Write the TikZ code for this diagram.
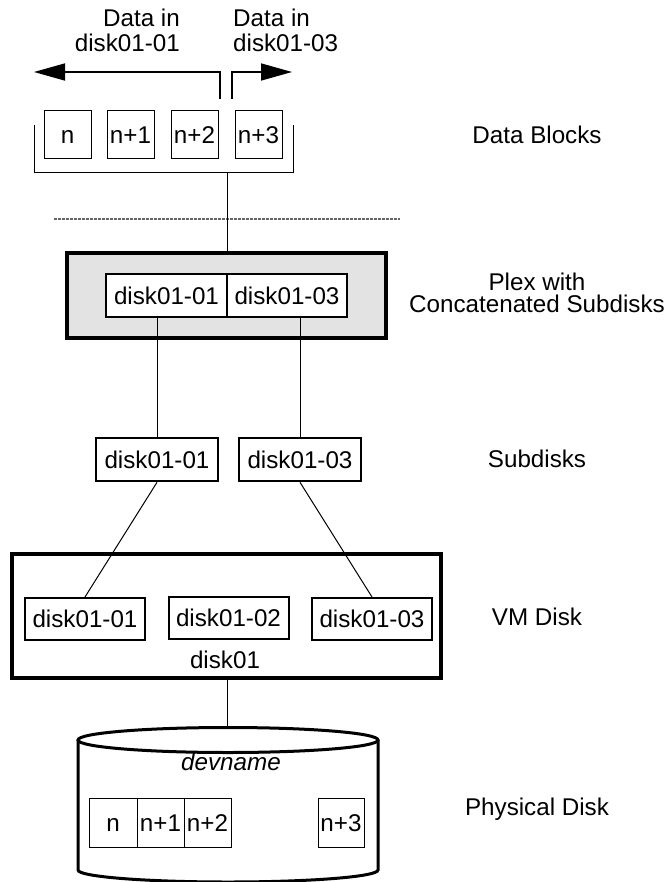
\documentclass[tikz,border=0pt]{standalone}
\usepackage{fontspec}
\setmainfont{Liberation Sans}
\usetikzlibrary{arrows.meta}
\begin{document}
\begin{tikzpicture}[x=1pt,y=-1pt,
  every node/.style={font=\fontsize{24.2}{26}\selectfont, inner sep=0pt},
  boxtext/.style={text height=17pt, text depth=0pt},
  blk/.style={draw, boxtext, line width=1pt, minimum height=48pt},
  sdbox/.style={draw, boxtext, line width=2.6pt, minimum height=43pt, minimum width=122pt},
  inbox/.style={draw, boxtext, line width=1.8pt, fill=white, minimum height=43pt},
  vmbox/.style={draw, boxtext, line width=2pt, minimum height=42pt, minimum width=120pt},
  outer/.style={draw, line width=3.2pt},
  conn/.style={line width=1pt},
  lab/.style={anchor=base},
  arr/.style={line width=1.6pt, -{Triangle[length=31pt,width=17pt]}}
]
\useasboundingbox (0,0) rectangle (667,882);

% top labels
\node[anchor=base east] (t1a) at (180,27) {Data in};
\node[anchor=base east] (t1b) at (180,52) {disk01-01};
\node[anchor=base west] (t2a) at (233,27) {Data in};
\node[anchor=base west] (t2b) at (233,52) {disk01-03};

% arrows
\coordinate (al0) at (220,99);
\coordinate (al1) at (220,72);
\coordinate (al2) at (34,72);
\coordinate (ar0) at (232,99);
\coordinate (ar1) at (232,72);
\coordinate (ar2) at (292,72);
\draw[arr] (al0) -- (al1) -- (al2);
\draw[arr] (ar0) -- (ar1) -- (ar2);

% data blocks
\node[blk, minimum width=47pt] (b0) at (67.5,135) {n};
\node[blk, minimum width=47pt] (b1) at (130.5,135) {n+1};
\node[blk, minimum width=47pt] (b2) at (194.5,135) {n+2};
\node[blk, minimum width=47pt] (b3) at (258.5,135) {n+3};
\coordinate (br1) at (34,125);
\coordinate (br2) at (34,173);
\coordinate (br3) at (293,173);
\coordinate (br4) at (293,125);
\coordinate (brm) at (227,173);
\draw[conn] (br1) -- (br2) -- (br3) -- (br4);

% dotted separator
\coordinate (d1) at (54,219);
\coordinate (d2) at (400,219);
\draw[line width=1.2pt, black!60, dash pattern=on 3pt off 1pt] (d1) -- (d2);

% plex
\node[outer, fill=black!11, minimum width=319pt, minimum height=85pt] (plex) at (226.5,295.5) {};
\node[inbox, minimum width=121pt] (p1) at (166.5,295.5) {disk01-01};
\node[inbox, minimum width=120pt] (p2) at (287,295.5) {disk01-03};
\draw[conn] (brm) -- (brm |- plex.north);

% subdisks
\node[sdbox] (s1) at (157,459.5) {disk01-01};
\node[sdbox] (s2) at (300,459.5) {disk01-03};
\draw[conn] (s1.north) -- (s1.north |- p1.south);
\draw[conn] (s2.north) -- (s2.north |- p2.south);

% VM disk
\node[outer, minimum width=429pt, minimum height=124pt] (vm) at (226.5,616) {};
\node[vmbox] (v1) at (85,619) {disk01-01};
\node[vmbox] (v2) at (228.5,618) {disk01-02};
\node[vmbox] (v3) at (372,619) {disk01-03};
\node[lab] (vmname) at (225,668) {disk01};
\draw[conn] (s1.south) -- (v1.north);
\draw[conn] (s2.south) -- (v3.north);

% physical disk (cylinder)
\draw[line width=3pt] (78,740) -- (78,870) arc[start angle=180, end angle=360, x radius=150, y radius=-12] -- (378,740);
\draw[line width=3pt, fill=white] (228,740) ellipse[x radius=150, y radius=12.5];
\coordinate (cyltop) at (227,727.5);
\draw[conn] (vm.south -| cyltop) -- (cyltop);
\node[lab, font=\fontsize{24.2}{26}\selectfont\itshape] (dev) at (231,770) {devname};
\node[blk, minimum width=48pt, minimum height=49pt] (c0) at (113,822.5) {n};
\node[blk, minimum width=47pt, minimum height=49pt] (c1) at (160.5,822.5) {n+1};
\node[blk, minimum width=47pt, minimum height=49pt] (c2) at (207.5,822.5) {n+2};
\node[blk, minimum width=46pt, minimum height=49pt] (c3) at (341,822.5) {n+3};

% right-hand labels
\node[lab] (l1) at (537,144) {Data Blocks};
\node[lab] (l2a) at (537,290) {Plex with};
\node[lab] (l2b) at (537,312) {Concatenated Subdisks};
\node[lab] (l3) at (537,467) {Subdisks};
\node[lab] (l4) at (537,625) {VM Disk};
\node[lab] (l5) at (537,815) {Physical Disk};
\end{tikzpicture}
\end{document}
